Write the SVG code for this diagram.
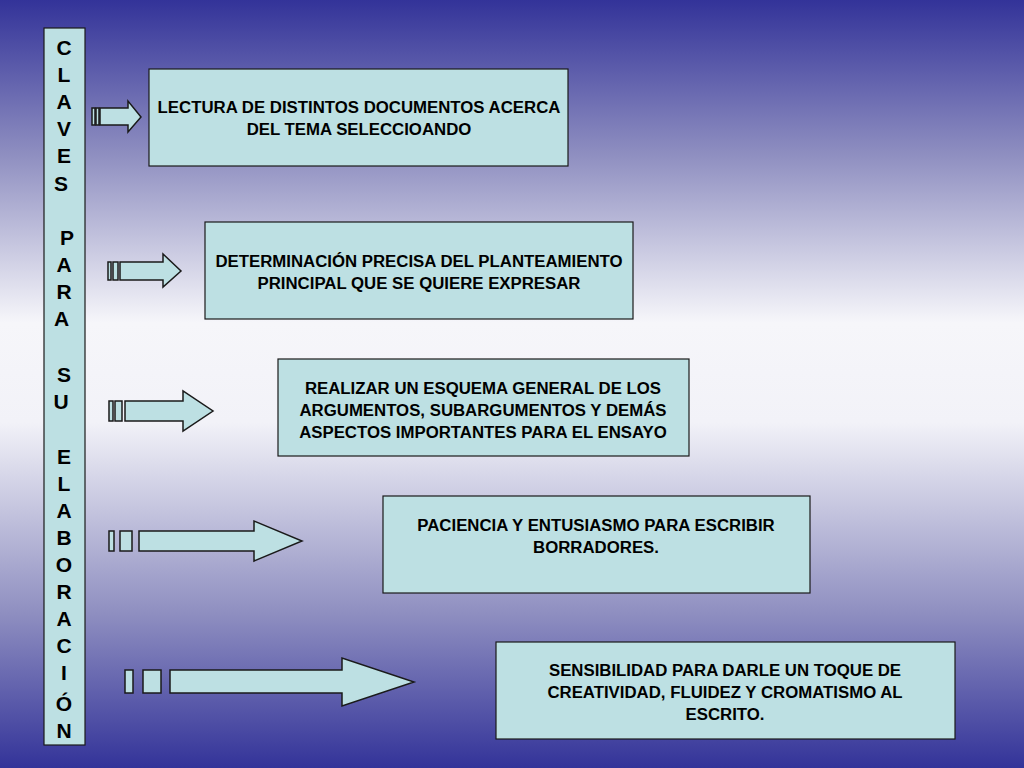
<svg xmlns="http://www.w3.org/2000/svg" width="1024" height="768" viewBox="0 0 1024 768">
<defs>
<linearGradient id="bg" x1="0" y1="0" x2="0" y2="1">
<stop offset="0" stop-color="#333399"/>
<stop offset="0.2" stop-color="#8e8ec0"/>
<stop offset="0.42" stop-color="#f6f6fa"/>
<stop offset="0.55" stop-color="#f2f2f8"/>
<stop offset="0.8" stop-color="#8e8ec0"/>
<stop offset="1" stop-color="#333399"/>
</linearGradient>
<style>
.b{fill:#bde0e3;stroke:#1a1a1a;stroke-width:1.2}
.a{fill:#bde0e3;stroke:#1a1a1a;stroke-width:1.5}
.t{font-family:"Liberation Sans",Arial,sans-serif;font-weight:bold;font-size:16.8px;fill:#000;text-anchor:middle}
.v{font-family:"Liberation Sans",Arial,sans-serif;font-weight:bold;font-size:21px;fill:#000;text-anchor:middle}
</style>
</defs>
<rect width="1024" height="768" fill="url(#bg)"/>
<g id="title">
<rect class="b" x="44" y="28" width="41" height="717"/>
<text class="v" x="64">
<tspan x="64" y="55">C</tspan><tspan x="64" y="82">L</tspan><tspan x="64" y="109">A</tspan><tspan x="64" y="136">V</tspan><tspan x="64" y="163">E</tspan><tspan x="64" y="191">S</tspan>
<tspan x="67" y="245">P</tspan><tspan x="64" y="272">A</tspan><tspan x="64" y="299">R</tspan><tspan x="64" y="326">A</tspan>
<tspan x="64" y="382">S</tspan><tspan x="64" y="409">U</tspan>
<tspan x="64" y="464">E</tspan><tspan x="64" y="491">L</tspan><tspan x="64" y="518">A</tspan><tspan x="64" y="545">B</tspan><tspan x="64" y="572">O</tspan><tspan x="64" y="599">R</tspan><tspan x="64" y="626">A</tspan><tspan x="64" y="653">C</tspan><tspan x="64" y="680">I</tspan><tspan x="64" y="711">Ó</tspan><tspan x="64" y="738">N</tspan>
</text>
</g>
<g id="connectors">
<rect class="a" x="92" y="108" width="3" height="17"/><rect class="a" x="96" y="108" width="3" height="17"/>
<polygon class="a" points="100,108 128,108 128,101 141,117 128,132 128,125 100,125"/>
<rect class="a" x="108" y="262" width="3" height="18"/><rect class="a" x="113" y="262" width="5" height="18"/>
<polygon class="a" points="120,262 163,262 163,254 181,271 163,287 163,280 120,280"/>
<rect class="a" x="109" y="401" width="4" height="20"/><rect class="a" x="115" y="401" width="7" height="20"/>
<polygon class="a" points="125,401 183,401 183,391 213,411 183,431 183,421 125,421"/>
<rect class="a" x="109" y="531" width="5" height="20"/><rect class="a" x="120" y="531" width="12" height="20"/>
<polygon class="a" points="139,531 254,531 254,521 302,541 254,561 254,551 139,551"/>
<rect class="a" x="125" y="670" width="8" height="23"/><rect class="a" x="143" y="670" width="18" height="23"/>
<polygon class="a" points="170,670 342,670 342,658 414,682 342,706 342,693 170,693"/>
</g>
<g id="n1"><rect class="b" x="149" y="69" width="419" height="97"/>
<text class="t"><tspan x="359" y="113">LECTURA DE DISTINTOS DOCUMENTOS ACERCA</tspan><tspan x="359" y="135">DEL TEMA SELECCIOANDO</tspan></text></g>
<g id="n2"><rect class="b" x="205" y="222" width="428" height="97"/>
<text class="t"><tspan x="419" y="267">DETERMINACIÓN PRECISA DEL PLANTEAMIENTO</tspan><tspan x="419" y="289">PRINCIPAL QUE SE QUIERE EXPRESAR</tspan></text></g>
<g id="n3"><rect class="b" x="278" y="359" width="411" height="97"/>
<text class="t"><tspan x="483" y="394">REALIZAR UN ESQUEMA GENERAL DE LOS</tspan><tspan x="483" y="416">ARGUMENTOS, SUBARGUMENTOS Y DEMÁS</tspan><tspan x="483" y="438">ASPECTOS IMPORTANTES PARA EL ENSAYO</tspan></text></g>
<g id="n4"><rect class="b" x="383" y="496" width="427" height="97"/>
<text class="t"><tspan x="596" y="531">PACIENCIA Y ENTUSIASMO PARA  ESCRIBIR</tspan><tspan x="596" y="553">BORRADORES.</tspan></text></g>
<g id="n5"><rect class="b" x="496" y="642" width="459" height="97"/>
<text class="t"><tspan x="725" y="676">SENSIBILIDAD PARA DARLE UN TOQUE DE</tspan><tspan x="725" y="698">CREATIVIDAD, FLUIDEZ Y CROMATISMO  AL</tspan><tspan x="725" y="720">ESCRITO.</tspan></text></g>
</svg>
